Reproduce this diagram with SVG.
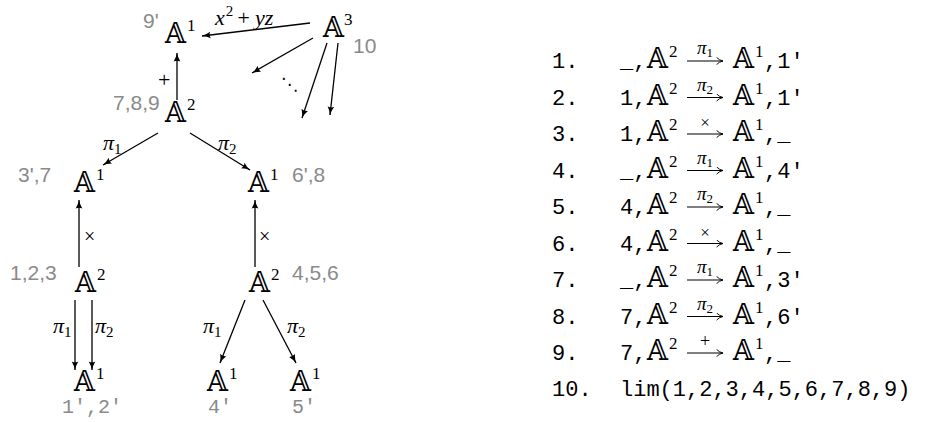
<svg xmlns="http://www.w3.org/2000/svg" width="927" height="422" viewBox="0 0 927 422">
<style>
.bb{font-family:"DejaVu Serif","DejaVu Sans","Noto Sans",serif;font-size:27px;fill:#000}
.sup{font-family:"Liberation Serif",serif;font-size:17px;fill:#000}
.g{font-family:"Liberation Sans",sans-serif;font-size:21px;fill:#8a8a8a}
.gm{font-family:"Liberation Mono",monospace;font-size:20px;fill:#8a8a8a}
.mi{font-family:"Liberation Serif",serif;font-style:italic;font-size:22px;fill:#000}
.sub{font-family:"Liberation Serif",serif;font-size:15px;font-style:normal}
.rm{font-family:"Liberation Serif",serif;font-size:22px;fill:#000}
.tt{font-family:"Liberation Mono",monospace;font-size:22px;fill:#000}
.lbl{font-family:"Liberation Serif",serif;font-style:italic;font-size:19px;fill:#000}
.lsub{font-size:13px;font-style:normal}
.c{stroke:#000;stroke-width:1.3;fill:none;marker-end:url(#ah)}
.la{stroke:#000;stroke-width:1.1;fill:none;marker-end:url(#ta)}
</style>
<defs>
<marker id="ah" viewBox="0 0 10 10" refX="9.5" refY="5" markerWidth="9" markerHeight="9" markerUnits="userSpaceOnUse" orient="auto">
<path d="M0,1.3 Q5,4.3 10,5 Q5,5.7 0,8.7 Q2,5 0,1.3z" fill="#000"/>
</marker>
<marker id="ta" viewBox="0 0 10 10" refX="9" refY="5" markerWidth="8" markerHeight="8" markerUnits="userSpaceOnUse" orient="auto">
<path d="M1,0.5 Q4,4 9,5 Q4,6 1,9.5" fill="none" stroke="#000" stroke-width="1.2"/>
</marker>
</defs>

<g id="connectors">
<line class="c" x1="310" y1="23" x2="202" y2="36"/>
<line class="c" x1="313" y1="38" x2="252" y2="73"/>
<line class="c" x1="327" y1="43" x2="302" y2="118"/>
<line class="c" x1="338" y1="43" x2="330" y2="115"/>
<line class="c" x1="177" y1="100" x2="177" y2="53"/>
<line class="c" x1="158" y1="133" x2="103" y2="165"/>
<line class="c" x1="190" y1="133" x2="250" y2="170"/>
<line class="c" x1="79" y1="267" x2="79" y2="200"/>
<line class="c" x1="255" y1="267" x2="255" y2="200"/>
<line class="c" x1="75" y1="300" x2="75" y2="370"/>
<line class="c" x1="92" y1="300" x2="92" y2="370"/>
<line class="c" x1="245" y1="300" x2="220" y2="363"/>
<line class="c" x1="263" y1="300" x2="296" y2="363"/>
<text class="mi" x="215" y="25">x<tspan class="sub" dx="1" dy="-9">2</tspan><tspan class="rm" x="236" dy="9">+</tspan><tspan x="255">yz</tspan></text>
<text x="281" y="90" style="font-family:'DejaVu Sans',sans-serif;font-size:17px">⋱</text>
<text class="rm" x="158" y="87">+</text>
<text class="mi" x="103" y="150">π<tspan class="sub" dy="4">1</tspan></text>
<text class="mi" x="218" y="150">π<tspan class="sub" dy="4">2</tspan></text>
<text class="rm" x="84" y="243" style="font-size:20px">×</text>
<text class="rm" x="259" y="243" style="font-size:20px">×</text>
<text class="mi" x="53" y="333">π<tspan class="sub" dy="4">1</tspan></text>
<text class="mi" x="95" y="333">π<tspan class="sub" dy="4">2</tspan></text>
<text class="mi" x="203" y="333">π<tspan class="sub" dy="4">1</tspan></text>
<text class="mi" x="287" y="333">π<tspan class="sub" dy="4">2</tspan></text>
</g>

<g id="n-top-a1">
<text class="g" x="143" y="28">9'</text>
<text class="bb" x="165" y="43">𝔸</text><text class="sup" x="187" y="31">1</text>
</g>
<g id="n-a3">
<text class="bb" x="323" y="37">𝔸</text><text class="sup" x="344" y="25">3</text>
<text class="g" x="353" y="53">10</text>
</g>
<g id="n-top-a2">
<text class="g" x="113" y="110">7,8,9</text>
<text class="bb" x="165" y="122">𝔸</text><text class="sup" x="187" y="110">2</text>
</g>
<g id="n-mid-left-a1">
<text class="g" x="18" y="182">3',7</text>
<text class="bb" x="74" y="192">𝔸</text><text class="sup" x="96" y="180">1</text>
</g>
<g id="n-mid-right-a1">
<text class="bb" x="248" y="192">𝔸</text><text class="sup" x="270" y="180">1</text>
<text class="g" x="292" y="182">6',8</text>
</g>
<g id="n-left-a2">
<text class="g" x="10" y="280">1,2,3</text>
<text class="bb" x="75" y="292">𝔸</text><text class="sup" x="97" y="280">2</text>
</g>
<g id="n-right-a2">
<text class="bb" x="249" y="292">𝔸</text><text class="sup" x="271" y="280">2</text>
<text class="g" x="292" y="280">4,5,6</text>
</g>
<g id="n-bl-a1">
<text class="bb" x="74" y="391">𝔸</text><text class="sup" x="96" y="379">1</text>
<text class="gm" x="62" y="413">1',2'</text>
</g>
<g id="n-bm-a1">
<text class="bb" x="207" y="391">𝔸</text><text class="sup" x="229" y="379">1</text>
<text class="gm" x="208" y="413">4'</text>
</g>
<g id="n-br-a1">
<text class="bb" x="290" y="391">𝔸</text><text class="sup" x="312" y="379">1</text>
<text class="gm" x="292" y="413">5'</text>
</g>

<g id="list">
<g transform="translate(0,68)">
<text class="tt" x="552" y="0">1.</text><text class="tt" x="620" y="0">_,</text>
<text class="bb" x="647" y="0">𝔸</text><text class="sup" x="669" y="-11">2</text>
<line class="la" x1="687" y1="-7" x2="723" y2="-7"/><text class="lbl" x="705" y="-14" text-anchor="middle">π<tspan class="lsub" dy="3">1</tspan></text>
<text class="bb" x="733" y="0">𝔸</text><text class="sup" x="755" y="-11">1</text><text class="tt" x="764" y="0">,1'</text>
</g>
<g transform="translate(0,104.5)">
<text class="tt" x="552" y="0">2.</text><text class="tt" x="620" y="0">1,</text>
<text class="bb" x="647" y="0">𝔸</text><text class="sup" x="669" y="-11">2</text>
<line class="la" x1="687" y1="-7" x2="723" y2="-7"/><text class="lbl" x="705" y="-14" text-anchor="middle">π<tspan class="lsub" dy="3">2</tspan></text>
<text class="bb" x="733" y="0">𝔸</text><text class="sup" x="755" y="-11">1</text><text class="tt" x="764" y="0">,1'</text>
</g>
<g transform="translate(0,141)">
<text class="tt" x="552" y="0">3.</text><text class="tt" x="620" y="0">1,</text>
<text class="bb" x="647" y="0">𝔸</text><text class="sup" x="669" y="-11">2</text>
<line class="la" x1="687" y1="-7" x2="723" y2="-7"/><text class="rm" x="705" y="-13" text-anchor="middle" style="font-size:17px">×</text>
<text class="bb" x="733" y="0">𝔸</text><text class="sup" x="755" y="-11">1</text><text class="tt" x="764" y="0">,_</text>
</g>
<g transform="translate(0,177.5)">
<text class="tt" x="552" y="0">4.</text><text class="tt" x="620" y="0">_,</text>
<text class="bb" x="647" y="0">𝔸</text><text class="sup" x="669" y="-11">2</text>
<line class="la" x1="687" y1="-7" x2="723" y2="-7"/><text class="lbl" x="705" y="-14" text-anchor="middle">π<tspan class="lsub" dy="3">1</tspan></text>
<text class="bb" x="733" y="0">𝔸</text><text class="sup" x="755" y="-11">1</text><text class="tt" x="764" y="0">,4'</text>
</g>
<g transform="translate(0,214)">
<text class="tt" x="552" y="0">5.</text><text class="tt" x="620" y="0">4,</text>
<text class="bb" x="647" y="0">𝔸</text><text class="sup" x="669" y="-11">2</text>
<line class="la" x1="687" y1="-7" x2="723" y2="-7"/><text class="lbl" x="705" y="-14" text-anchor="middle">π<tspan class="lsub" dy="3">2</tspan></text>
<text class="bb" x="733" y="0">𝔸</text><text class="sup" x="755" y="-11">1</text><text class="tt" x="764" y="0">,_</text>
</g>
<g transform="translate(0,250.5)">
<text class="tt" x="552" y="0">6.</text><text class="tt" x="620" y="0">4,</text>
<text class="bb" x="647" y="0">𝔸</text><text class="sup" x="669" y="-11">2</text>
<line class="la" x1="687" y1="-7" x2="723" y2="-7"/><text class="rm" x="705" y="-13" text-anchor="middle" style="font-size:17px">×</text>
<text class="bb" x="733" y="0">𝔸</text><text class="sup" x="755" y="-11">1</text><text class="tt" x="764" y="0">,_</text>
</g>
<g transform="translate(0,287)">
<text class="tt" x="552" y="0">7.</text><text class="tt" x="620" y="0">_,</text>
<text class="bb" x="647" y="0">𝔸</text><text class="sup" x="669" y="-11">2</text>
<line class="la" x1="687" y1="-7" x2="723" y2="-7"/><text class="lbl" x="705" y="-14" text-anchor="middle">π<tspan class="lsub" dy="3">1</tspan></text>
<text class="bb" x="733" y="0">𝔸</text><text class="sup" x="755" y="-11">1</text><text class="tt" x="764" y="0">,3'</text>
</g>
<g transform="translate(0,323.5)">
<text class="tt" x="552" y="0">8.</text><text class="tt" x="620" y="0">7,</text>
<text class="bb" x="647" y="0">𝔸</text><text class="sup" x="669" y="-11">2</text>
<line class="la" x1="687" y1="-7" x2="723" y2="-7"/><text class="lbl" x="705" y="-14" text-anchor="middle">π<tspan class="lsub" dy="3">2</tspan></text>
<text class="bb" x="733" y="0">𝔸</text><text class="sup" x="755" y="-11">1</text><text class="tt" x="764" y="0">,6'</text>
</g>
<g transform="translate(0,360)">
<text class="tt" x="552" y="0">9.</text><text class="tt" x="620" y="0">7,</text>
<text class="bb" x="647" y="0">𝔸</text><text class="sup" x="669" y="-11">2</text>
<line class="la" x1="687" y1="-7" x2="723" y2="-7"/><text class="rm" x="705" y="-13" text-anchor="middle" style="font-size:18px">+</text>
<text class="bb" x="733" y="0">𝔸</text><text class="sup" x="755" y="-11">1</text><text class="tt" x="764" y="0">,_</text>
</g>
<g transform="translate(0,396)">
<text class="tt" x="552" y="0">10.</text><text class="tt" x="620" y="0">lim(1,2,3,4,5,6,7,8,9)</text>
</g>
</g>
</svg>
